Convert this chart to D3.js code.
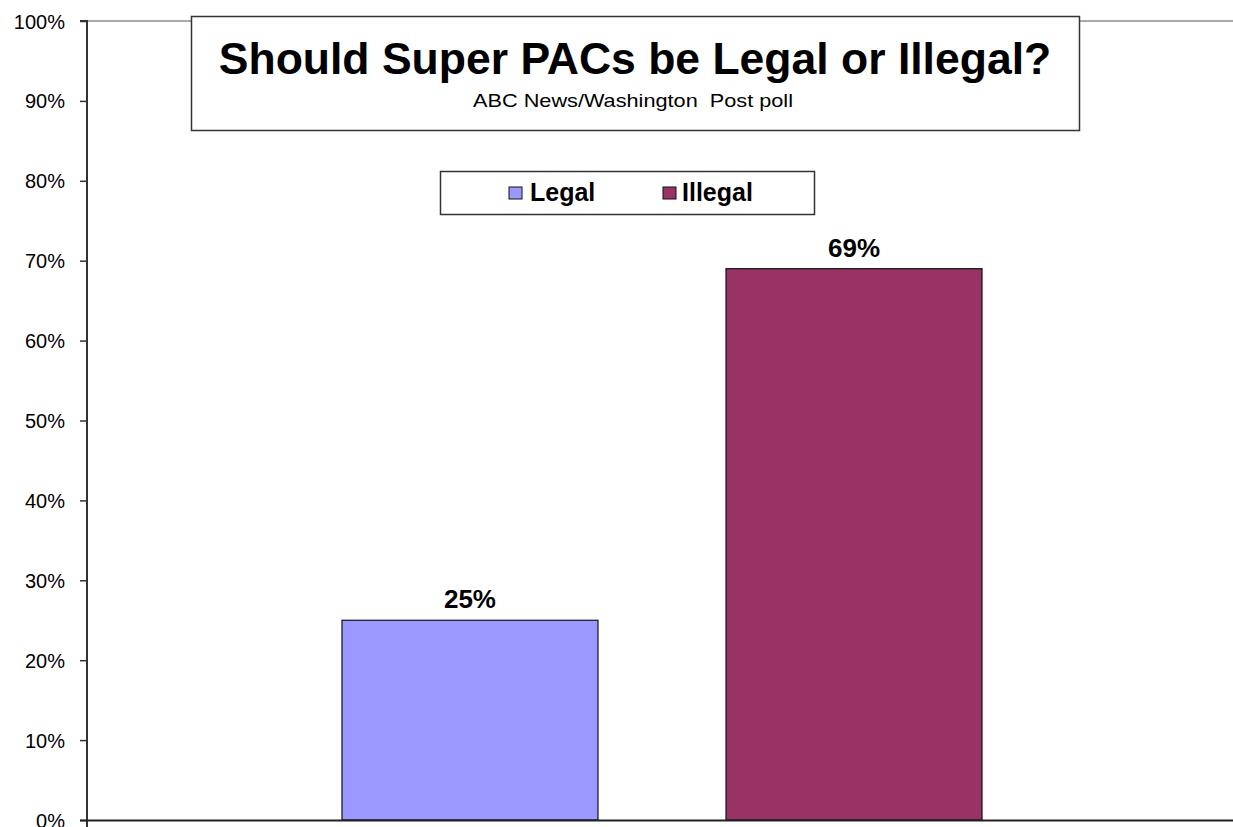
<!DOCTYPE html>
<html>
<head>
<meta charset="utf-8">
<script src="https://cdn.jsdelivr.net/npm/d3@7/dist/d3.min.js"></script>
<style>
  html, body { margin: 0; padding: 0; background: #fff; }
  svg { display: block; font-family: Arial, "Liberation Sans", sans-serif; }
</style>
</head>
<body>
<svg id="chart" width="1233" height="827"></svg>
<script>
// ---- data ----
const categories = ["Legal", "Illegal"];
const values = [25, 69];
const colors = ["#9999FF", "#993366"];
const yTicks = [0, 10, 20, 30, 40, 50, 60, 70, 80, 90, 100];
const title = "Should Super PACs be Legal or Illegal?";
const subtitle = "ABC News/Washington  Post poll";

(function () {
const svg = d3.select("#chart");
const plotLeft = 87, plotRight = 1237, plotTop = 21, plotBottom = 820;

const y = d3.scaleLinear().domain([0, 100]).range([plotBottom, plotTop]);
const x = d3.scaleBand().domain(categories).range([plotLeft, plotRight])
  .paddingInner(1 / 3).paddingOuter(0.664);

// top gridline at 100%
svg.append("line")
  .attr("x1", plotLeft).attr("x2", 1233)
  .attr("y1", y(100)).attr("y2", y(100))
  .attr("stroke", "#8c8c8c").attr("stroke-width", 1.5);

// bars
svg.selectAll("rect.bar").data(categories).enter().append("rect")
  .attr("class", "bar")
  .attr("x", d => x(d))
  .attr("width", x.bandwidth())
  .attr("y", (d, i) => y(values[i]))
  .attr("height", (d, i) => y(0) - y(values[i]))
  .attr("fill", (d, i) => colors[i])
  .attr("stroke", "#111").attr("stroke-width", 1.2);

// data labels
svg.selectAll("text.lbl").data(categories).enter().append("text")
  .attr("class", "lbl")
  .attr("x", d => x(d) + x.bandwidth() / 2)
  .attr("y", (d, i) => y(values[i]) - 12)
  .attr("text-anchor", "middle")
  .attr("font-size", 26).attr("font-weight", "bold").attr("fill", "#000")
  .text((d, i) => values[i] + "%");

// y axis
const yAxis = d3.axisLeft(y).tickValues(yTicks).tickFormat(d => d + "%").tickSize(7).tickPadding(15);
const gy = svg.append("g").attr("transform", `translate(${plotLeft},0)`).call(yAxis);
gy.select(".domain").attr("stroke", "#333").attr("stroke-width", 2)
  .attr("d", `M-7,${plotTop}H0V827`);
gy.selectAll(".tick line").attr("stroke", "#333").attr("stroke-width", 1.5);
gy.selectAll(".tick text").attr("font-size", 20).attr("fill", "#000")
  .attr("font-family", "Arial, 'Liberation Sans', sans-serif").attr("dy", "0.35em");

// x axis baseline
svg.append("line")
  .attr("x1", plotLeft - 7).attr("x2", 1233)
  .attr("y1", y(0) + 0.5).attr("y2", y(0) + 0.5)
  .attr("stroke", "#222").attr("stroke-width", 2);

// title box
svg.append("rect")
  .attr("x", 191.5).attr("y", 16.5).attr("width", 888).attr("height", 114)
  .attr("fill", "#fff").attr("stroke", "#333").attr("stroke-width", 1.5);
svg.append("text")
  .attr("x", 635).attr("y", 74)
  .attr("text-anchor", "middle").attr("font-size", 44.5).attr("font-weight", "bold")
  .attr("fill", "#000").text(title);
svg.append("text")
  .attr("x", 633).attr("y", 107)
  .attr("text-anchor", "middle").attr("font-size", 19)
  .style("white-space", "pre")
  .attr("textLength", 320).attr("lengthAdjust", "spacingAndGlyphs")
  .attr("fill", "#000").text(subtitle);

// legend
const lg = svg.append("g");
lg.append("rect")
  .attr("x", 440.5).attr("y", 171.5).attr("width", 374).attr("height", 43)
  .attr("fill", "#fff").attr("stroke", "#333").attr("stroke-width", 1.5);
const legendX = [509, 663];
categories.forEach((c, i) => {
  lg.append("rect")
    .attr("x", legendX[i]).attr("y", 187).attr("width", 13).attr("height", 12)
    .attr("fill", colors[i]).attr("stroke", "#111").attr("stroke-width", 1);
  lg.append("text")
    .attr("x", legendX[i] + (i === 0 ? 21 : 19)).attr("y", 201)
    .attr("font-size", 25).attr("font-weight", "bold").attr("fill", "#000")
    .text(c);
});
})();
</script>
</body>
</html>
